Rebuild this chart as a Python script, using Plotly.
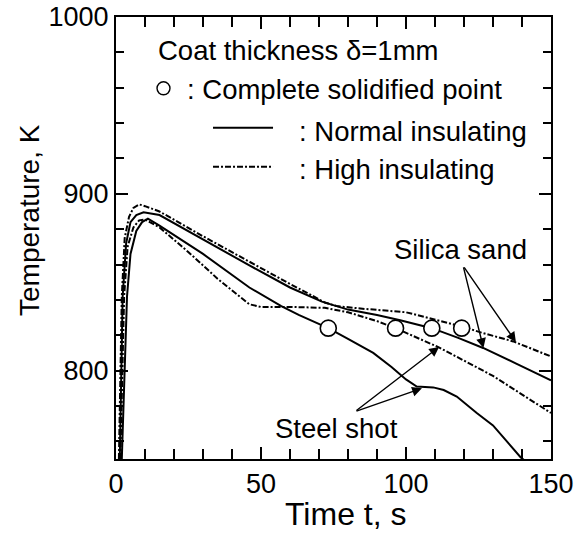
import plotly.graph_objects as go

# ---------------- data ----------------
# Silica sand, high insulating coat (dash-dot)
t_silica_high = [1.0, 2.0, 3.0, 4.5, 6.0, 8.0, 10, 15, 30, 46, 60, 67, 72, 76, 85, 100, 110, 119.2, 126, 137, 150]
T_silica_high = [750, 842, 875, 887, 892, 894, 893, 890, 876, 861.5, 849, 843, 838.5, 836.5, 835, 833, 829, 825, 821.5, 816.5, 808]

# Silica sand, normal insulating coat (solid)
t_silica_norm = [1.3, 2.3, 3.5, 5, 7, 9.5, 15, 30, 46, 60, 71, 80, 90, 98, 108.9, 118, 126.6, 138, 150]
T_silica_norm = [750, 842, 872, 884, 888, 889.5, 888, 874, 859.5, 847, 839, 834.5, 831.5, 828.5, 824, 818.5, 812.8, 804, 794.5]

# Steel shot, high insulating coat (dash-dot)
t_steel_high = [1.5, 2.8, 4, 6, 8, 10, 15, 25, 35, 42, 46, 50, 60, 72, 80, 90, 96.4, 111.5, 130, 150]
T_steel_high = [750, 842, 870, 881, 885, 885.5, 881, 867, 852, 843, 837.5, 836, 836, 835.5, 833, 828, 824, 813, 797, 776]

# Steel shot, normal insulating coat (solid)
t_steel_norm = [2, 3.8, 5, 7, 9, 11, 15, 30, 46, 57, 63, 73.2, 80, 88.7, 95, 100, 103.7, 109.4, 113, 117.5, 124.4, 130, 139.5, 141]
T_steel_norm = [750, 842, 866, 879, 884, 886, 882, 866, 847, 836.5, 831.5, 824, 818, 810, 802, 795, 791, 790.5, 789, 785.3, 776, 769, 751, 749]

# Complete solidified points
t_solid = [73.2, 96.4, 108.9, 119.2]
T_solid = [824, 824, 824, 824]

# Arrow annotations (tail -> head), data coordinates
silica_tail = (119.7, 859.2)
silica_heads = [(126.7, 812.8), (137.9, 816.2)]
steel_tail = (82.4, 776.8)
steel_heads = [(111.4, 813.4), (105.5, 790.0)]

x_range = [0, 150]
y_range = [750, 1000]

FONT = "Liberation Sans, Arial, sans-serif"
DASHDOT = "6px,2px,2px,2px"

fig = go.Figure()

def add_curve(t, T, dash):
    fig.add_trace(go.Scatter(x=t, y=T, mode="lines",
                             line=dict(color="black", width=2, dash=dash),
                             showlegend=False, hoverinfo="skip"))

add_curve(t_silica_high, T_silica_high, DASHDOT)
add_curve(t_silica_norm, T_silica_norm, "solid")
add_curve(t_steel_high, T_steel_high, DASHDOT)
add_curve(t_steel_norm, T_steel_norm, "solid")

fig.add_trace(go.Scatter(x=t_solid, y=T_solid, mode="markers",
                         marker=dict(symbol="circle", size=16, color="white",
                                     line=dict(color="black", width=1.6)),
                         showlegend=False, hoverinfo="skip"))

annotations = []
for hx, hy in silica_heads:
    annotations.append(dict(x=hx, y=hy, ax=silica_tail[0], ay=silica_tail[1],
                            xref="x", yref="y", axref="x", ayref="y", text="",
                            showarrow=True, arrowhead=2, arrowsize=1.4,
                            arrowwidth=1.4, arrowcolor="black"))
for hx, hy in steel_heads:
    annotations.append(dict(x=hx, y=hy, ax=steel_tail[0], ay=steel_tail[1],
                            xref="x", yref="y", axref="x", ayref="y", text="",
                            showarrow=True, arrowhead=2, arrowsize=1.4,
                            arrowwidth=1.4, arrowcolor="black"))

txt = dict(font=dict(family=FONT, size=27.5, color="black"), showarrow=False,
           xref="paper", yref="paper")
annotations += [
    dict(text="Coat thickness δ=1mm", x=0.092, y=0.925, xanchor="left", yanchor="middle", **txt),
    dict(text=": Complete solidified point", x=0.1586, y=0.835, xanchor="left", yanchor="middle", **txt),
    dict(text=": Normal insulating", x=0.4154, y=0.742, xanchor="left", yanchor="middle", **txt),
    dict(text=": High insulating", x=0.4154, y=0.655, xanchor="left", yanchor="middle", **txt),
    dict(text="Silica sand", x=0.791, y=0.473, xanchor="center", yanchor="middle", **txt),
    dict(text="Steel shot", x=0.507, y=0.070, xanchor="center", yanchor="middle", **txt),
    dict(text="Time t, s", x=0.5276, y=-0.124, xanchor="center", yanchor="middle",
         font=dict(family=FONT, size=32, color="black"), showarrow=False, xref="paper", yref="paper"),
    dict(text="Temperature, K", x=-0.2, y=0.5407, xanchor="center", yanchor="middle", textangle=-90,
         font=dict(family=FONT, size=28, color="black"), showarrow=False, xref="paper", yref="paper"),
]

shapes = [
    dict(type="circle", xref="paper", yref="paper", x0=0.0943, x1=0.1241, y0=0.8240, y1=0.8534,
         line=dict(color="black", width=1.4), fillcolor="white"),
    dict(type="line", xref="paper", yref="paper", x0=0.223, x1=0.361, y0=0.7495, y1=0.7495,
         line=dict(color="black", width=2)),
    dict(type="line", xref="paper", yref="paper", x0=0.223, x1=0.361, y0=0.661, y1=0.661,
         line=dict(color="black", width=2, dash=DASHDOT)),
]

axis_common = dict(showgrid=False, zeroline=False, showline=True, linecolor="black",
                   linewidth=2, mirror="ticks", ticks="inside", tickcolor="black",
                   tickwidth=1.5, automargin=False,
                   tickfont=dict(family=FONT, size=27, color="black"))

fig.update_layout(
    width=585, height=533,
    margin=dict(l=116, r=34, t=17, b=74, autoexpand=False),
    paper_bgcolor="white", plot_bgcolor="white",
    xaxis=dict(range=x_range, tickmode="linear", tick0=0, dtick=50, ticklen=12,
               minor=dict(dtick=10, ticklen=10, ticks="inside", tickcolor="black", tickwidth=1.5),
               **axis_common),
    yaxis=dict(range=y_range, tickmode="linear", tick0=800, dtick=100, ticklen=12,
               minor=dict(dtick=20, ticklen=8, ticks="inside", tickcolor="black", tickwidth=1.5),
               **axis_common),
    annotations=annotations,
    shapes=shapes,
    showlegend=False,
)

fig.write_html("out.html")
